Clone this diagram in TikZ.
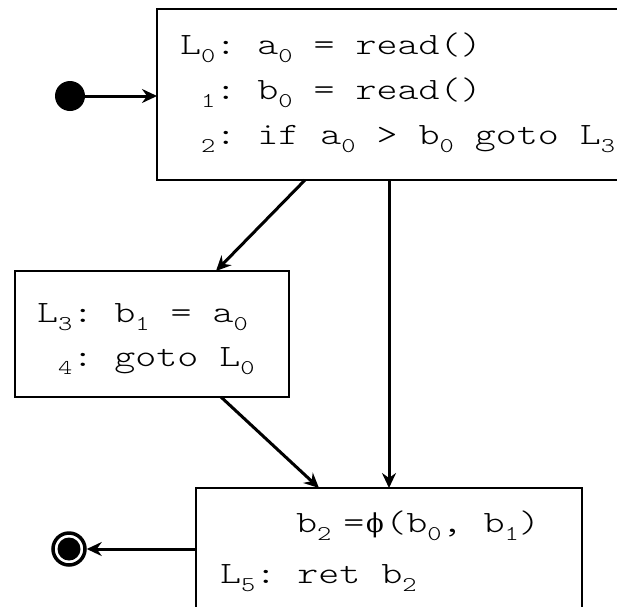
\documentclass[tikz,border=0pt]{standalone}
\usepackage{fontspec}
\usetikzlibrary{arrows.meta}
\newfontfamily\cour{lmmonolt10-regular}[Extension=.otf,FakeStretch=1.29]
\newfontfamily\phifont{DejaVu Serif}
\newcommand\spc{\hspace*{21pt}}
\newcommand\subd[1]{\raisebox{-8.5pt}{\fontsize{21}{21}\selectfont #1}}
\newcommand\phL{\hphantom{L}}
\begin{document}
\begin{tikzpicture}[x=1pt,y=-1pt,
  box/.style={draw=black, line width=1.5pt, inner sep=0pt, outer sep=0pt, anchor=north west},
  code/.style={anchor=base west, inner sep=0pt, font=\cour\fontsize{31}{31}\selectfont},
  flow/.style={line width=3pt, -{Stealth[length=15pt,width=14pt,inset=5pt]}},
  startdot/.style={circle, fill=black, inner sep=0pt, minimum size=30pt},
  endring/.style={circle, draw=black, line width=3.5pt, fill=white, inner sep=0pt, minimum size=32pt},
  enddot/.style={circle, fill=black, inner sep=0pt, minimum size=23pt}]
\useasboundingbox (0,0) rectangle (617,606);
\fill[white] (0,0) rectangle (617,606);
% boxes
\node[box, minimum width=500pt, minimum height=171pt] (top) at (157,9) {};
\node[box, minimum width=274pt, minimum height=126pt] (left) at (15,271) {};
\node[box, minimum width=386pt, minimum height=200pt] (bot) at (196,488) {};
% code
\node[code] (t1) at (180,54) {L\subd{0}:\spc a\subd{0}\spc=\spc read()};
\node[code] (t2) at (180,99) {\phL\subd{1}:\spc b\subd{0}\spc=\spc read()};
\node[code] (t3) at (180,144) {\phL\subd{2}:\spc if\spc a\subd{0}\spc>\spc b\subd{0}\spc goto\spc L\subd{3}};
\node[code] (l1) at (37,322) {L\subd{3}:\spc b\subd{1}\spc=\spc a\subd{0}};
\node[code] (l2) at (37,366) {\phL\subd{4}:\spc goto\spc L\subd{0}};
\node[code] (b1) at (296,532) {b\subd{2}\hspace*{12pt}=\makebox[21pt]{\phifont\fontsize{26}{26}\selectfont ϕ}(b\subd{0},\spc b\subd{1})};
\node[code] (b2) at (220,583) {L\subd{5}:\spc ret\spc b\subd{2}};
% start / end
\node[startdot] (start) at (70,96) {};
\node[endring] (end) at (69,549) {};
\node[enddot] (endin) at (end) {};
% connectors
\draw[flow] (start) -- (start -| top.west);
\draw[flow] ([xshift=148pt]top.south west) -- ([xshift=201pt]left.north west);
\draw[flow] ([xshift=232pt]top.south west) -- ([xshift=193pt]bot.north west);
\draw[flow] ([xshift=206pt]left.south west) -- ([xshift=123pt]bot.north west);
\draw[flow] ([yshift=-61pt]bot.north west) -- (end);
\end{tikzpicture}
\end{document}
